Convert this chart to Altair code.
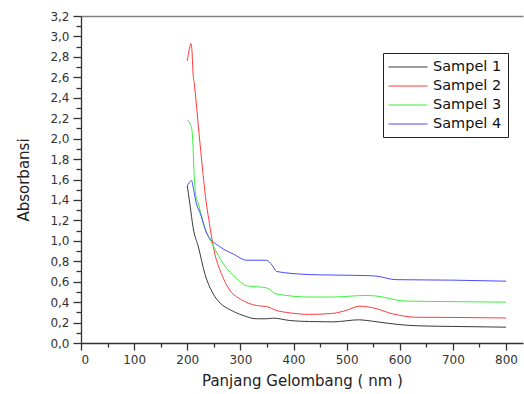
import altair as alt
import pandas as pd

series_names = ["Sampel 1", "Sampel 2", "Sampel 3", "Sampel 4"]
series_colors = ["#3a3a3a", "#ff3b3b", "#3cf03c", "#4a4aff"]

# Sampel 1 (black)
x1 = [200, 205, 211, 221, 233, 249, 262, 281, 305, 330, 349, 362, 393, 430, 474, 524, 549, 599, 636, 700, 800]
y1 = [1.54, 1.36, 1.13, 0.94, 0.68, 0.48, 0.39, 0.325, 0.27, 0.237, 0.237, 0.243, 0.22, 0.21, 0.207, 0.227, 0.213, 0.18, 0.168, 0.162, 0.155]

# Sampel 2 (red)
x2 = [200, 204, 207, 209, 211, 213, 222, 229, 233, 243, 252, 262, 281, 300, 330, 349, 368, 393, 430, 474, 500, 524, 549, 587, 631, 700, 800]
y2 = [2.76, 2.88, 2.93, 2.85, 2.63, 2.55, 2.06, 1.69, 1.49, 1.13, 0.87, 0.71, 0.51, 0.43, 0.367, 0.357, 0.318, 0.295, 0.28, 0.29, 0.32, 0.36, 0.345, 0.285, 0.252, 0.25, 0.245]

# Sampel 3 (green)
x3 = [200, 205, 209, 211, 213, 216, 221, 233, 249, 268, 293, 312, 349, 368, 430, 474, 536, 555, 611, 700, 800]
y3 = [2.18, 2.15, 2.08, 1.9, 1.65, 1.45, 1.36, 1.13, 0.95, 0.775, 0.63, 0.56, 0.54, 0.48, 0.45, 0.45, 0.465, 0.46, 0.41, 0.405, 0.40]

# Sampel 4 (blue)
x4 = [200, 204, 208, 212, 216, 225, 237, 262, 287, 312, 349, 360, 368, 430, 474, 536, 555, 593, 700, 800]
y4 = [1.54, 1.57, 1.59, 1.5, 1.39, 1.26, 1.07, 0.94, 0.87, 0.81, 0.81, 0.76, 0.70, 0.67, 0.665, 0.66, 0.655, 0.62, 0.615, 0.605]

x_major = [0, 100, 200, 300, 400, 500, 600, 700, 800]
x_minor = [50, 150, 250, 350, 450, 550, 650, 750]
y_major = [0.0, 0.2, 0.4, 0.6, 0.8, 1.0, 1.2, 1.4, 1.6, 1.8, 2.0, 2.2, 2.4, 2.6, 2.8, 3.0, 3.2]
y_minor = [0.1, 0.3, 0.5, 0.7, 0.9, 1.1, 1.3, 1.5, 1.7, 1.9, 2.1, 2.3, 2.5, 2.7, 2.9, 3.1]

rows = []
for name, xs_, ys_ in zip(series_names, [x1, x2, x3, x4], [y1, y2, y3, y4]):
    for a, b in zip(xs_, ys_):
        rows.append({"series": name, "wl": a, "absorb": b})
df = pd.DataFrame(rows)

FONT = "DejaVu Sans"
AXC = "#333333"
xscale = alt.Scale(domain=[0, 832], nice=False, zero=False)
yscale = alt.Scale(domain=[0, 3.2], nice=False)

lines = alt.Chart(df).mark_line(strokeWidth=1, interpolate="monotone").encode(
    x=alt.X("wl:Q", scale=xscale,
            axis=alt.Axis(values=x_major, title="Panjang Gelombang ( nm )", grid=False,
                          tickSize=7, tickColor=AXC, domainColor=AXC, domainWidth=1.3,
                          tickWidth=1.3,
                          labelFont=FONT, labelFontSize=12, labelColor="#333",
                          labelPadding=4, titleFont=FONT, titleFontSize=15,
                          titleFontWeight="normal", titleColor="#222", titlePadding=8,
                          orient="bottom")),
    y=alt.Y("absorb:Q", scale=yscale,
            axis=alt.Axis(values=y_major, title="Absorbansi", grid=False,
                          labelExpr="replace(format(datum.value,'.1f'),'.',',')",
                          tickSize=8, tickColor=AXC, domainColor=AXC, domainWidth=1.3,
                          tickWidth=1.3,
                          labelFont=FONT, labelFontSize=12, labelColor="#333",
                          labelPadding=4, titleFont=FONT, titleFontSize=15,
                          titleFontWeight="normal", titleColor="#222", titlePadding=18,
                          orient="left")),
    color=alt.Color("series:N",
                    scale=alt.Scale(domain=series_names, range=series_colors),
                    legend=alt.Legend(title=None, orient="none", legendX=302, legendY=37,
                                      symbolType="M-2.6,0H2.6", symbolSize=225,
                                      symbolStrokeWidth=1, symbolOffset=11,
                                      labelFont=FONT, labelFontSize=14.5, labelColor="#111",
                                      rowPadding=4, padding=6, strokeColor="#222",
                                      fillColor="white", labelOffset=17)),
)

minor = alt.Chart(df).mark_point(opacity=0).encode(
    x=alt.X("wl:Q", scale=xscale, title="",
            axis=alt.Axis(values=x_minor, labels=False, domain=False, grid=False,
                          tickSize=4, tickWidth=1.3, tickColor=AXC, orient="bottom")),
    y=alt.Y("absorb:Q", scale=yscale, title="",
            axis=alt.Axis(values=y_minor, labels=False, domain=False, grid=False,
                          tickSize=5, tickWidth=1.3, tickColor=AXC, orient="left")),
)

top = alt.Chart(df).mark_point(opacity=0).encode(
    x=alt.X("wl:Q", scale=xscale, title="",
            axis=alt.Axis(values=x_major, labels=False, ticks=False, grid=False,
                          domainColor="#808080", domainWidth=1.6, orient="top")),
    y=alt.Y("absorb:Q", scale=yscale, axis=None),
)

chart = alt.layer(lines, minor, top).resolve_axis(x="independent", y="independent").properties(
    width=442, height=327, autosize="none",
    padding={"left": 81, "top": 16, "right": 1, "bottom": 51},
).configure_view(stroke=None)

chart.save("out.html", embed_options={"renderer": "svg", "actions": False})
